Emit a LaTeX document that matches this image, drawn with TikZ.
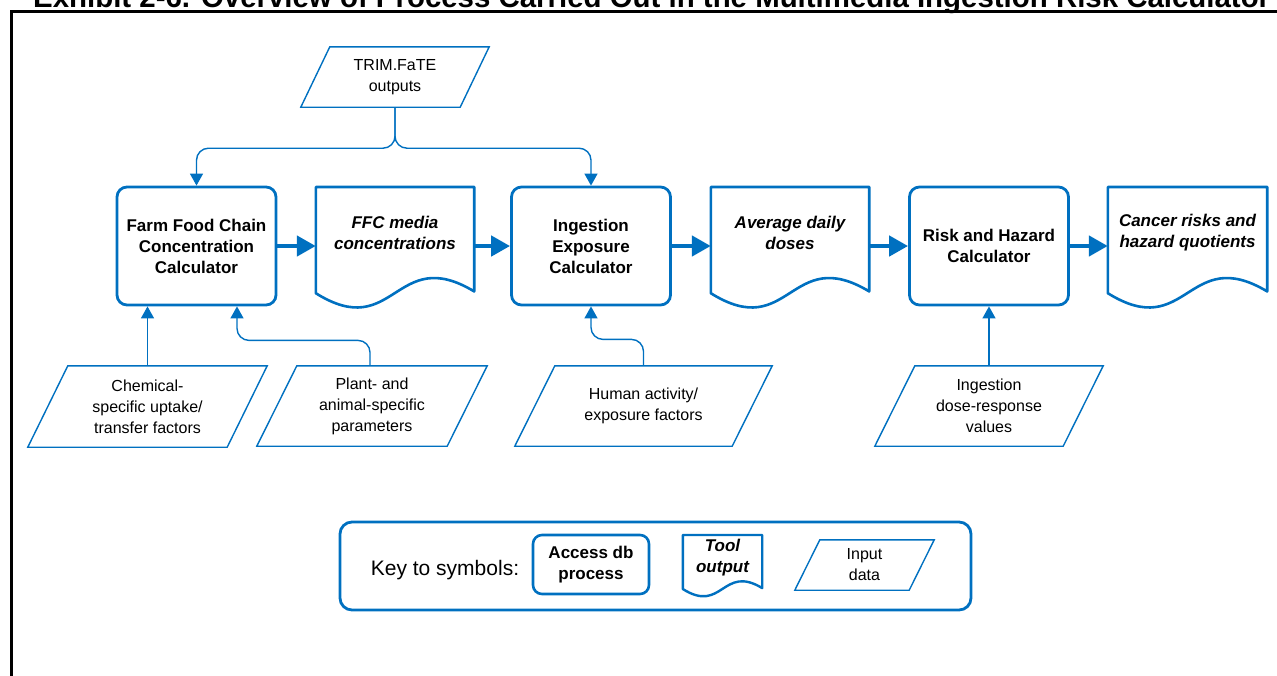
\documentclass[tikz,border=0pt]{standalone}
\usepackage{fontspec}
\setmainfont{Liberation Sans}
\usepackage{graphicx}
\usetikzlibrary{arrows.meta,calc}
\definecolor{myblue}{RGB}{0,112,192}
\tikzset{
  proc/.style={draw=myblue, line width=2.8pt, rounded corners=10pt, minimum width=159pt, minimum height=118pt, align=center, font=\fontsize{17}{21}\selectfont\bfseries, inner sep=2pt},
  docnode/.style={minimum width=158pt, minimum height=91pt, align=center, font=\fontsize{17}{21}\selectfont\bfseries\itshape, inner sep=0pt},
  docline/.style={draw=myblue, line width=2.6pt, line join=round},
  inpnode/.style={align=center, font=\fontsize{16}{21}\selectfont, inner sep=0pt},
  inpline/.style={draw=myblue, line width=1.4pt, line join=miter},
  conn/.style={draw=myblue, line width=1.4pt, rounded corners=12pt, -{Triangle[width=13pt,length=12pt]}},
  flow/.style={draw=myblue, line width=4.5pt, -{Triangle[width=20pt,length=19pt]}},
}
\newcommand\drawinput[2]{%
  \draw[inpline] ([xshift=#2]#1.north west) -- (#1.north east) -- ([xshift=-#2]#1.south east) -- (#1.south west) -- cycle;}
\newcommand\drawdocument[3]{%
  \draw[docline,#3] let \p1=(#1.north west), \p2=(#1.north east) in
   (\p1) -- (\p2) -- (\x2,{\y2-0.885*#2})
   .. controls ({(\x1+\x2)/2},{\y1-0.9*#2+0.42*#2}) and ({(\x1+\x2)/2},{\y1-0.9*#2-0.42*#2}) ..
   (\x1,{\y1-0.9*#2}) -- cycle;}
\begin{document}
\begin{tikzpicture}[x=1pt,y=-1pt]
\useasboundingbox (0,0) rectangle (1277,675);
\clip (0,0) rectangle (1277,675);
% title (cut off at top, as in the original) and frame
\node[anchor=base west, inner sep=0pt] (title) at (33,7) {\resizebox{1237pt}{!}{\fontsize{24}{28}\selectfont\bfseries Exhibit 2-6. Overview of Process Carried Out in the Multimedia Ingestion Risk Calculator}};
\draw[line width=3pt] (11,700) -- (11,11.5) -- (1290,11.5);

% main row
\node[proc] (farm) at (196.5,246) {Farm Food Chain\\Concentration\\Calculator};
\node[docnode, anchor=north] (ffc) at (395,187) {FFC media\\concentrations};
\drawdocument{ffc}{118pt}{}
\node[proc] (ingest) at (591,246) {Ingestion\\Exposure\\Calculator};
\node[docnode, anchor=north] (avg) at (790,187) {Average daily\\doses};
\drawdocument{avg}{118pt}{}
\node[proc] (risk) at (989,246) {Risk and Hazard\\Calculator};
\node[docnode, anchor=north, minimum width=159pt] (cancer) at (1187.5,187) {Cancer risks and\\hazard quotients};
\drawdocument{cancer}{118pt}{}

\draw[flow] (farm.east) -- (farm.east -| ffc.west);
\draw[flow] (farm.east -| ffc.east) -- (ingest.west);
\draw[flow] (ingest.east) -- (ingest.east -| avg.west);
\draw[flow] (ingest.east -| avg.east) -- (risk.west);
\draw[flow] (risk.east) -- (risk.east -| cancer.west);

% inputs
\node[inpnode, minimum width=188pt, minimum height=60pt] (trim) at (395,77) {TRIM.FaTE\\outputs};
\drawinput{trim}{29pt}
\node[inpnode, minimum width=239pt, minimum height=81pt] (chem) at (147.5,406.5) {Chemical-\\specific uptake/\\transfer factors};
\drawinput{chem}{40pt}
\node[inpnode, minimum width=230pt, minimum height=80pt] (plant) at (372,406) {Plant- and\\animal-specific\\parameters};
\drawinput{plant}{40pt}
\node[inpnode, minimum width=257pt, minimum height=80pt] (human) at (643.5,406) {Human activity/\\exposure factors};
\drawinput{human}{40pt}
\node[inpnode, minimum width=228pt, minimum height=80pt] (dose) at (989,406) {Ingestion\\dose-response\\values};
\drawinput{dose}{40pt}

% connectors
\coordinate (split) at ($(trim.south)+(0,41)$);
\draw[conn] (trim.south) -- (split) -| (farm.north);
\draw[conn] (trim.south) -- (split) -| (ingest.north);
\draw[conn] (chem.north) -- (chem.north |- farm.south);
\draw[conn] ([xshift=-2pt]plant.north) |- ($(farm.south)+(40.5,34)$) -- ($(farm.south)+(40.5,0)$);
\draw[conn] (human.north) |- ($(ingest.south)+(0,33)$) -- (ingest.south);
\draw[conn] (dose.north) -- (risk.south);

% legend
\node[draw=myblue, line width=2.8pt, rounded corners=12pt, minimum width=631pt, minimum height=88pt] (legend) at (655.5,566) {};
\node[font=\fontsize{21}{25}\selectfont, inner sep=0pt] (key) at (445,570) {Key to symbols:};
\node[proc, minimum width=116pt, minimum height=59pt, rounded corners=9pt, line width=2.6pt] (kproc) at (591,564.5) {Access db\\process};
\node[docnode, anchor=north, minimum width=79pt, minimum height=45pt] (kdoc) at (722.5,535) {Tool\\output};
\drawdocument{kdoc}{60pt}{line width=2.4pt}
\node[inpnode, minimum width=139pt, minimum height=50pt] (kin) at (864.5,565) {Input\\data};
\drawinput{kin}{25pt}
\end{tikzpicture}
\end{document}
